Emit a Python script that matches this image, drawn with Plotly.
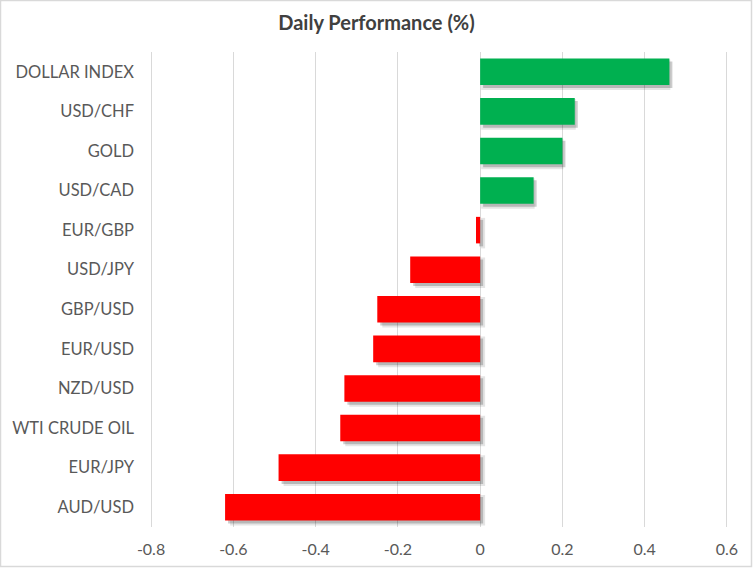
import plotly.graph_objects as go

categories = ["DOLLAR INDEX", "USD/CHF", "GOLD", "USD/CAD", "EUR/GBP", "USD/JPY",
              "GBP/USD", "EUR/USD", "NZD/USD", "WTI CRUDE OIL", "EUR/JPY", "AUD/USD"]
values = [0.46, 0.23, 0.20, 0.13, -0.01, -0.17, -0.25, -0.26, -0.33, -0.34, -0.49, -0.62]
x_ticks = [-0.8, -0.6, -0.4, -0.2, 0, 0.2, 0.4, 0.6]
x_tick_labels = ["-0.8", "-0.6", "-0.4", "-0.2", "0", "0.2", "0.4", "0.6"]

GREEN = "#00B050"
RED = "#FF0000"
colors = [GREEN if v > 0 else RED for v in values]

W, H = 753, 568
ML, MR, MT, MB = 150, 25, 52, 41
pw, ph = W - ML - MR, H - MT - MB
x_range = [-0.8025, 0.6025]
unit_per_px = (x_range[1] - x_range[0]) / pw
cat_per_px = 1 / (ph / len(categories))

bw = 0.67
fig = go.Figure()

# soft shadow layers (Excel-style outer shadow)
for dx, dy, alpha, grow in [(3, 3, 0.10, 2), (3, 3, 0.20, 0)]:
    shift = dx * unit_per_px
    fig.add_trace(go.Bar(
        y=categories, x=values,
        base=[shift - grow * unit_per_px if v > 0 else shift + grow * unit_per_px for v in values],
        orientation="h",
        width=bw + 2 * grow * cat_per_px,
        offset=-bw / 2 + dy * cat_per_px - grow * cat_per_px,
        marker=dict(color=f"rgba(0,0,0,{alpha})", line=dict(width=0)),
        hoverinfo="skip", showlegend=False,
    ))

fig.add_trace(go.Bar(
    y=categories, x=values, orientation="h",
    width=bw, offset=-bw / 2,
    marker=dict(color=colors, line=dict(width=0)),
    showlegend=False,
))

fig.update_layout(
    width=W, height=H,
    margin=dict(l=ML, r=MR, t=MT, b=MB, autoexpand=False),
    paper_bgcolor="white", plot_bgcolor="white",
    barmode="overlay",
    font=dict(family="Lato, Calibri, sans-serif", color="#595959", size=16.5),
    title=dict(text="<b>Daily Performance (%)</b>", x=0.5, xref="container",
               y=1 - 23 / H, yref="container", yanchor="middle",
               font=dict(size=20, color="#404040", family="Lato, sans-serif")),
    xaxis=dict(range=x_range, tickvals=x_ticks, ticktext=x_tick_labels,
               showgrid=True, gridcolor="#D9D9D9", gridwidth=1,
               zeroline=True, zerolinecolor="#D9D9D9", zerolinewidth=1,
               showline=False, ticks="", ticklabelstandoff=11,
               tickfont=dict(size=16, color="#595959"), fixedrange=True),
    yaxis=dict(autorange="reversed", showgrid=False, showline=False, ticks="",
               ticklabelstandoff=15, tickfont=dict(size=16.5, color="#595959"),
               fixedrange=True),
    shapes=[dict(type="rect", xref="paper", yref="paper",
                 x0=-(ML - 0.5) / pw, x1=1 + (MR - 1.5) / pw,
                 y0=-(MB - 1.5) / ph, y1=1 + (MT - 0.5) / ph,
                 line=dict(color="#D9D9D9", width=1.5), layer="below")],
)

fig.write_html("out.html", config={"displayModeBar": False},
               post_script="document.body.style.margin='0px';document.body.style.overflow='hidden';")
